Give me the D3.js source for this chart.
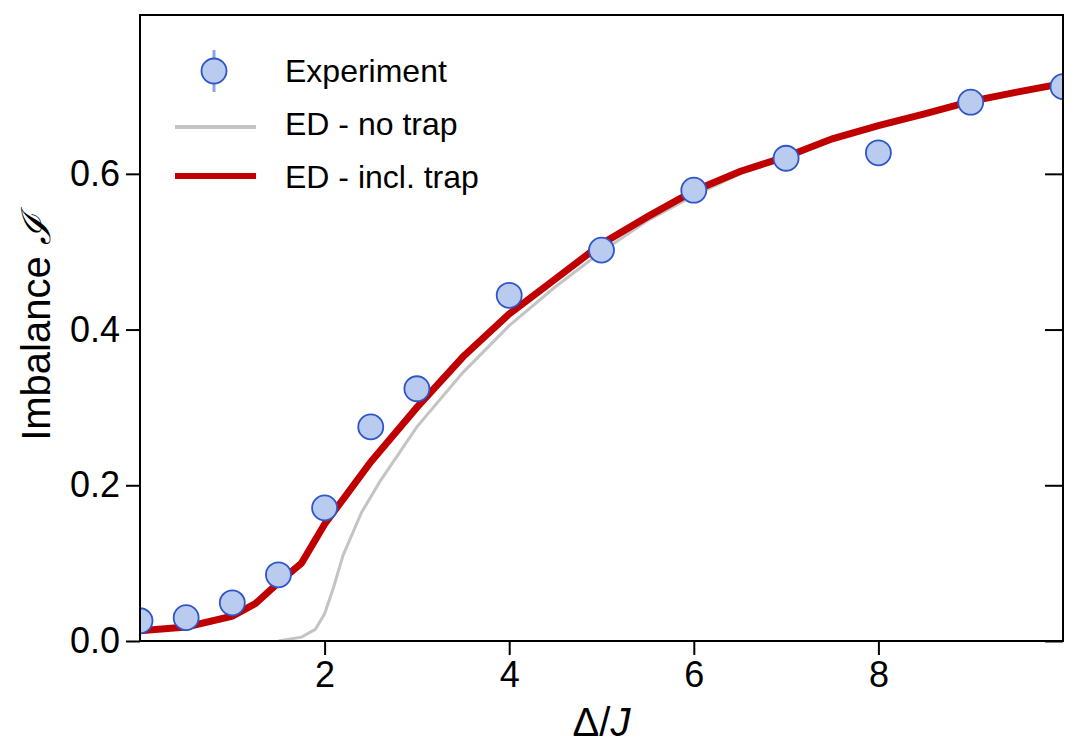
<!DOCTYPE html>
<html><head><meta charset="utf-8">
<script src="https://cdn.jsdelivr.net/npm/d3@7"></script>
<style>body{margin:0;background:#fff}text{font-family:"Liberation Sans",Arial,sans-serif}</style>
</head><body><svg id="c" width="1079" height="745"></svg>
<script>
var expX = [0, 0.5, 1, 1.5, 2, 2.5, 3, 4, 5, 6, 7, 8, 9, 10];
var expY = [0.026, 0.030, 0.049, 0.085, 0.171, 0.275, 0.324, 0.444, 0.502, 0.579, 0.620, 0.627, 0.692, 0.712];
var trapX = [0, 0.5, 1, 1.25, 1.5, 1.75, 2, 2.25, 2.5, 3, 3.5, 4, 4.5, 5, 5.5, 6, 6.5, 7, 7.5, 8, 8.5, 9, 9.5, 10];
var trapY = [0.013, 0.018, 0.032, 0.048, 0.075, 0.100, 0.15, 0.19, 0.23, 0.30, 0.365, 0.42, 0.465, 0.51, 0.545, 0.578, 0.603, 0.622, 0.645, 0.662, 0.677, 0.693, 0.705, 0.716];
var noTrapX = [1.5, 1.75, 1.9, 2, 2.1, 2.2, 2.4, 2.6, 3, 3.5, 4, 4.5, 5, 5.5, 6, 6.5, 7, 7.5, 8, 8.5, 9, 9.5, 10];
var noTrapY = [0, 0.005, 0.015, 0.035, 0.07, 0.11, 0.165, 0.205, 0.275, 0.345, 0.405, 0.455, 0.5, 0.54, 0.572, 0.6, 0.62, 0.644, 0.661, 0.677, 0.693, 0.705, 0.716];
var xTicks = [2, 4, 6, 8];
var yTicks = [0, 0.2, 0.4, 0.6];

var svg = d3.select("#c");
var L = 140, R = 1063, T = 15, B = 641;
var x = d3.scaleLinear().domain([0, 10]).range([L, R]);
var y = d3.scaleLinear().domain([0, 0.804]).range([B, T]);

var plot = svg.append("g");
plot.append("clipPath").attr("id", "clip").append("rect").attr("x", L).attr("y", T).attr("width", R - L).attr("height", B - T);

var line = d3.line().x(d => x(d[0])).y(d => y(d[1]));
var g = plot.append("g").attr("clip-path", "url(#clip)");
g.append("path").datum(d3.zip(noTrapX, noTrapY)).attr("d", line)
  .attr("fill", "none").attr("stroke", "#c4c4c4").attr("stroke-width", 3);
g.append("path").datum(d3.zip(trapX, trapY)).attr("d", line)
  .attr("fill", "none").attr("stroke", "#c00000").attr("stroke-width", 7);
g.selectAll("circle").data(d3.zip(expX, expY)).join("circle")
  .attr("cx", d => x(d[0])).attr("cy", d => y(d[1])).attr("r", 12.5)
  .attr("fill", "#b9cbee").attr("stroke", "#2f55c8").attr("stroke-width", 1.8);

// frame and axes
svg.append("rect").attr("x", L).attr("y", T).attr("width", R - L).attr("height", B - T)
  .attr("fill", "none").attr("stroke", "#000").attr("stroke-width", 2);
var bx = svg.append("g").attr("transform", "translate(0," + B + ")")
  .call(d3.axisBottom(x).tickValues(xTicks).tickSize(14).tickPadding(6).tickFormat(d3.format("d")));
var ly = svg.append("g").attr("transform", "translate(" + L + ",0)")
  .call(d3.axisLeft(y).tickValues(yTicks).tickSize(14).tickPadding(6).tickFormat(d3.format(".1f")));
var ry = svg.append("g").attr("transform", "translate(" + R + ",0)")
  .call(d3.axisLeft(y).tickValues(yTicks).tickSize(18).tickFormat(""));
[bx, ly, ry].forEach(function (a) {
  a.select(".domain").remove();
  a.selectAll("line").attr("stroke-width", 2);
  a.selectAll("text").attr("font-size", 36).attr("fill", "#000").style("font-family", "Liberation Sans, Arial, sans-serif");
});

svg.append("text").attr("transform", "translate(50," + (B + T) / 2 + ") rotate(-90)")
  .attr("text-anchor", "middle").attr("font-size", 40)
  .html('Imbalance <tspan font-family="DejaVu Serif" font-style="italic">ℐ</tspan>');
svg.append("text").attr("x", (L + R) / 2).attr("y", 736).attr("text-anchor", "middle").attr("font-size", 40)
  .html('Δ/<tspan font-style="italic">J</tspan>');

// legend
var lg = svg.append("g");
lg.append("line").attr("x1", 214).attr("x2", 214).attr("y1", 50).attr("y2", 92).attr("stroke", "#8aa6e0").attr("stroke-width", 3);
lg.append("circle").attr("cx", 214).attr("cy", 71).attr("r", 12.5)
  .attr("fill", "#b9cbee").attr("stroke", "#2f55c8").attr("stroke-width", 1.8);
lg.append("line").attr("x1", 175).attr("x2", 256).attr("y1", 127).attr("y2", 127).attr("stroke", "#c4c4c4").attr("stroke-width", 4);
lg.append("line").attr("x1", 175).attr("x2", 256).attr("y1", 176).attr("y2", 176).attr("stroke", "#c00000").attr("stroke-width", 6);
var labels = ["Experiment", "ED - no trap", "ED - incl. trap"];
lg.selectAll("text.lab").data(labels).join("text").attr("class", "lab")
  .attr("x", 285).attr("y", (d, i) => 82 + i * 53).attr("font-size", 32).text(d => d);
</script></body></html>
